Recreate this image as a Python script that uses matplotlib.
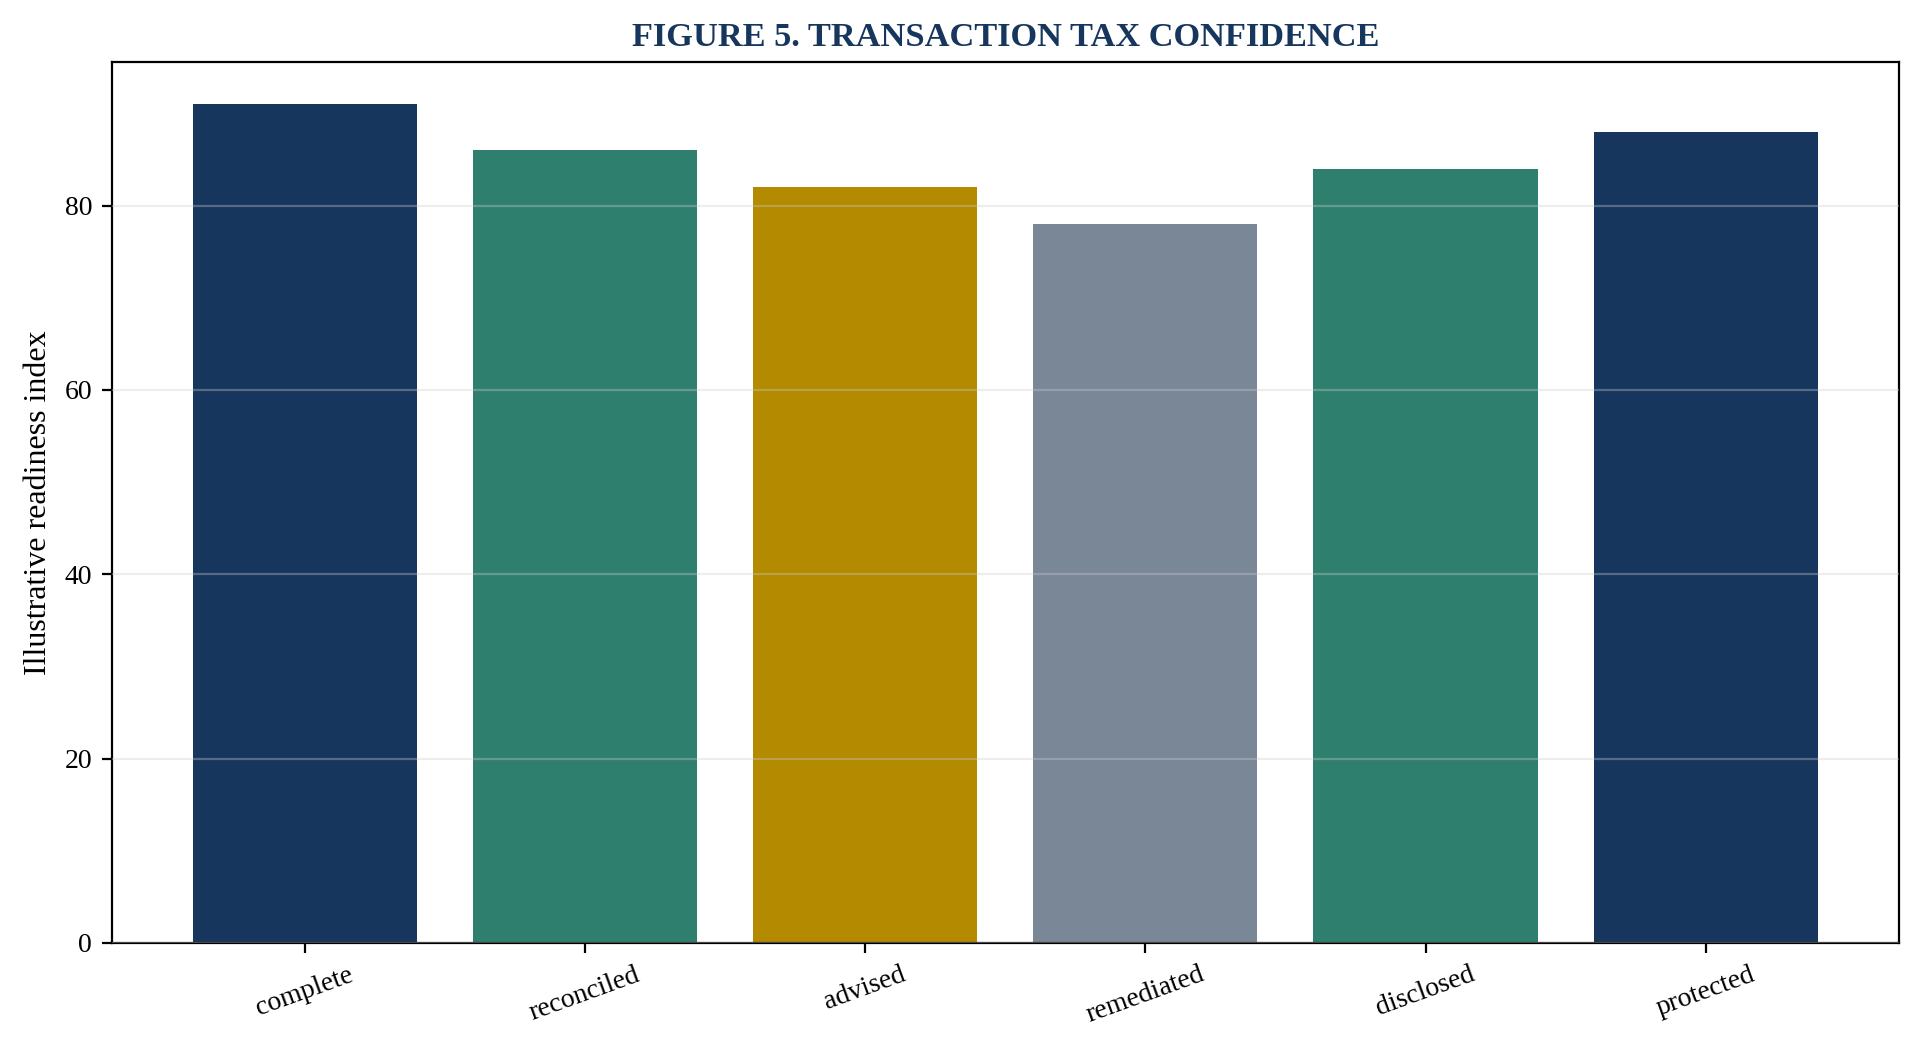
import matplotlib
matplotlib.use("Agg")
from matplotlib import pyplot as plt

categories = ["complete", "reconciled", "advised", "remediated", "disclosed", "protected"]
values = [91, 86, 82, 78, 84, 88]
colors = ["#17365d", "#2e7f6e", "#b38a00", "#7a8797", "#2e7f6e", "#17365d"]

plt.rcParams["font.family"] = ["Liberation Serif", "DejaVu Serif"]

fig, ax = plt.subplots(figsize=(9.62, 5.285), dpi=200)
fig.subplots_adjust(left=0.058, right=0.987, top=0.941, bottom=0.108)

ax.bar(categories, values, color=colors, width=0.8)
ax.set_axisbelow(False)
ax.grid(axis="y", color="#cccccc", alpha=0.35, linewidth=0.8)

ax.set_title("FIGURE 5. TRANSACTION TAX CONFIDENCE", fontsize=12.4,
             fontweight="bold", color="#17365d")
ax.set_ylabel("Illustrative readiness index", fontsize=11.5)
ax.tick_params(axis="both", labelsize=10)
plt.setp(ax.get_xticklabels(), rotation=20)

fig.savefig("out.png", dpi=200)
